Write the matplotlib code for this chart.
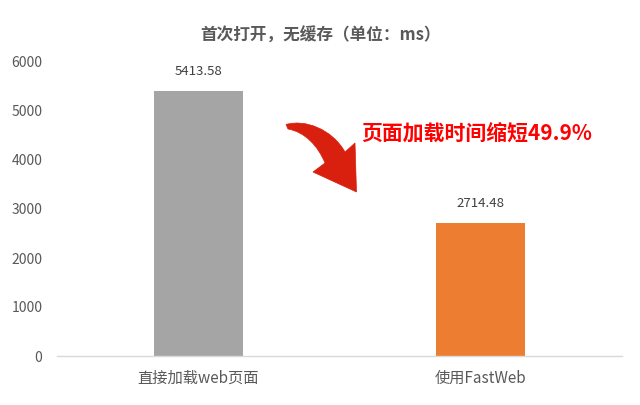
import matplotlib
matplotlib.use("Agg")
import matplotlib.pyplot as plt
from matplotlib.path import Path
from matplotlib.patches import PathPatch
import matplotlib.transforms as mtransforms

plt.rcParams['font.family'] = ['Noto Sans CJK SC', 'DejaVu Sans']

title = "首次打开，无缓存（单位：ms）"
categories = ["直接加载web页面", "使用FastWeb"]
values = [5413.58, 2714.48]
value_labels = ["5413.58", "2714.48"]
yticks = [0, 1000, 2000, 3000, 4000, 5000, 6000]
annotation = "页面加载时间缩短49.9%"
colors = ["#A5A5A5", "#ED7D31"]

W, H = 640, 405
fig = plt.figure(figsize=(W / 100, H / 100), dpi=100)
ax = fig.add_axes([57 / W, 1 - 356 / H, (622 - 57) / W, (356 - 62) / H])

x = list(range(len(categories)))
ax.bar(x, values, width=0.315, color=colors, zorder=2)
for xi, v, lab in zip(x, values, value_labels):
    ax.annotate(lab, (xi, v), xytext=(0, 9), textcoords="offset points",
                ha="center", va="bottom", fontsize=9.5, color="#404040")

ax.set_xlim(-0.5, 1.5)
ax.set_ylim(0, 6000)
ax.set_yticks(yticks)
ax.set_yticklabels([str(t) for t in yticks])
ax.set_xticks(x)
ax.set_xticklabels(categories)
ax.tick_params(axis="y", length=0, labelsize=10, labelcolor="#595959", pad=10.5)
ax.tick_params(axis="x", length=0, labelsize=11, labelcolor="#595959", pad=10)
for s in ["top", "right", "left"]:
    ax.spines[s].set_visible(False)
ax.spines["bottom"].set_color("#D9D9D9")
ax.spines["bottom"].set_linewidth(1.0)

fig.text(0.5, 1 - 36 / H, title, ha="center", va="center", fontsize=12,
         fontweight="bold", color="#595959")

fig.text(361 / W, 1 - 133 / H, annotation, ha="left", va="center", fontsize=15,
         fontweight="bold", color="#FF0000")

# curved arrow in pixel coordinates (y downwards)
pix = mtransforms.Affine2D().scale(1 / W, -1 / H).translate(0, 1) + fig.transFigure
verts = [
    (286, 124.5),
    (305, 119), (332, 129), (345, 152),
    (355, 143),
    (356.5, 192),
    (313, 172),
    (325, 163),
    (318, 146), (305, 132), (288, 129),
    (286, 124.5),
]
codes = [Path.MOVETO,
         Path.CURVE4, Path.CURVE4, Path.CURVE4,
         Path.LINETO, Path.LINETO, Path.LINETO, Path.LINETO,
         Path.CURVE4, Path.CURVE4, Path.CURVE4,
         Path.CLOSEPOLY]
arrow = PathPatch(Path(verts, codes), facecolor="#D91F0E", edgecolor="#D91F0E",
                  linewidth=0.5, transform=pix)
fig.add_artist(arrow)

fig.savefig("out.png", dpi=100)
